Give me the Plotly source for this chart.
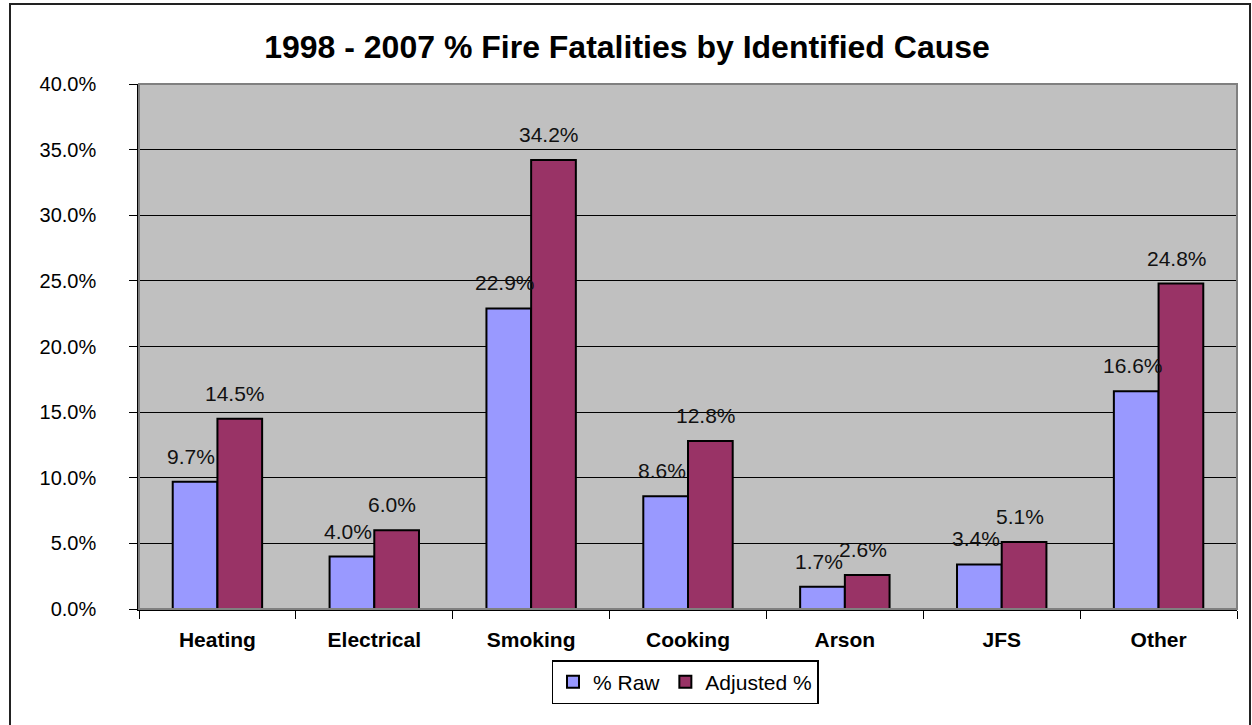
import plotly.graph_objects as go

categories = ["Heating", "Electrical", "Smoking", "Cooking", "Arson", "JFS", "Other"]
raw_pct = [9.7, 4.0, 22.9, 8.6, 1.7, 3.4, 16.6]
adjusted_pct = [14.5, 6.0, 34.2, 12.8, 2.6, 5.1, 24.8]
y_ticks = [0, 5, 10, 15, 20, 25, 30, 35, 40]
y_tick_labels = [f"{v:.1f}%" for v in y_ticks]

W, H = 1252, 725
L, R, T, B = 139, 15, 84, 116
pw, ph = W - L - R, H - T - B

fig = go.Figure()
fig.add_trace(go.Bar(name="% Raw", x=categories, y=raw_pct,
                     marker=dict(color="#9999FF", line=dict(color="#000000", width=2))))
fig.add_trace(go.Bar(name="Adjusted %", x=categories, y=adjusted_pct,
                     marker=dict(color="#993366", line=dict(color="#000000", width=2))))

font = "Liberation Sans, Arial, sans-serif"
for vals, xs in ((raw_pct, -22), (adjusted_pct, 22)):
    for c, v in zip(categories, vals):
        fig.add_annotation(x=c, y=v, xref="x", yref="y", text=f"{v:.1f}%",
                           showarrow=False, xshift=xs - 4, yshift=12, yanchor="bottom",
                           font=dict(family=font, size=21, color="#111111"))

# outer chart border
fig.add_shape(type="rect", xref="paper", yref="paper",
              x0=(10 - L) / pw, x1=(1250 - L) / pw,
              y0=-(740 - T - ph) / ph, y1=1 + (T - 4) / ph,
              line=dict(color="#222222", width=2), fillcolor="rgba(0,0,0,0)", layer="below")
# plot area border
fig.add_shape(type="rect", xref="paper", yref="paper", x0=0, x1=1, y0=0, y1=1,
              line=dict(color="#808080", width=2), fillcolor="rgba(0,0,0,0)", layer="above")

fig.update_layout(
    width=W, height=H,
    margin=dict(l=L, r=R, t=T, b=B),
    paper_bgcolor="#FFFFFF", plot_bgcolor="#C0C0C0",
    barmode="group", bargap=0.43, bargroupgap=0,
    title=dict(text="<b>1998 - 2007 % Fire Fatalities by Identified Cause</b>",
               x=627 / W, xanchor="center", y=1 - 47 / H, yanchor="middle",
               font=dict(family=font, size=32, color="#000000")),
    font=dict(family=font, color="#000000"),
    showlegend=True,
    legend=dict(orientation="h", x=(685 - L) / pw, xanchor="center",
                y=-(660 - T - ph) / ph, yanchor="top",
                bordercolor="#000000", borderwidth=1.5, bgcolor="#FFFFFF",
                font=dict(family=font, size=21), itemwidth=30,
                traceorder="normal"),
    xaxis=dict(type="category", showline=True, linecolor="#000000", linewidth=1.5,
               ticks="outside", tickson="boundaries", ticklen=8, tickcolor="#000000",
               tickfont=dict(family=font, size=21, color="#000000"),
               ticklabelstandoff=11,
               tickprefix="<b>", ticksuffix="</b>", showgrid=False),
    yaxis=dict(range=[0, 40], tickvals=y_ticks, ticktext=y_tick_labels,
               showline=True, linecolor="#000000", linewidth=1.5,
               ticks="outside", ticklen=8, tickcolor="#000000",
               ticklabelstandoff=29,
               showgrid=True, gridcolor="#000000", gridwidth=1,
               tickfont=dict(family=font, size=20, color="#000000"), zeroline=False),
)

fig.write_html("out.html")
